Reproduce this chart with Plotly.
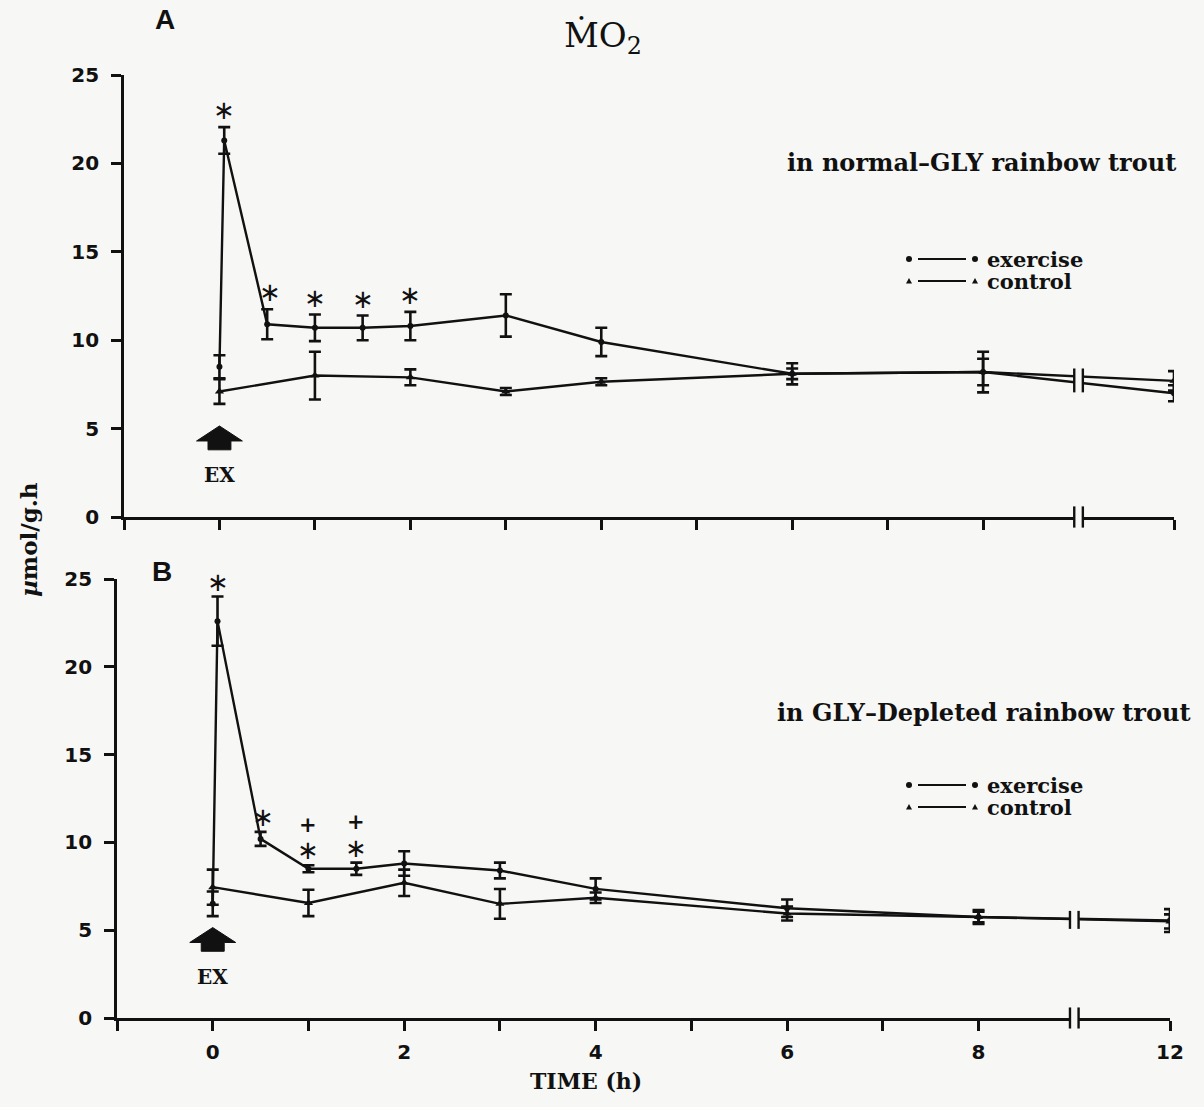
import plotly.graph_objects as go

# ---------------- data ----------------
ex_hours = [0, 0.05, 0.5, 1, 1.5, 2, 3, 4, 6, 8, 12]
ct_hours = [0, 1, 2, 3, 4, 6, 8, 12]

# Panel A : normal-GLY rainbow trout
a_ex = [8.5, 21.3, 10.9, 10.7, 10.7, 10.8, 11.4, 9.9, 8.1, 8.2, 7.0]
a_ex_err = [0.65, 0.75, 0.85, 0.75, 0.7, 0.8, 1.2, 0.8, 0.6, 1.15, 0.45]
a_ct = [7.1, 8.0, 7.9, 7.1, 7.65, 8.1, 8.2, 7.7]
a_ct_err = [0.7, 1.35, 0.45, 0.2, 0.2, 0.3, 0.75, 0.55]

# Panel B : GLY-depleted rainbow trout
b_ex = [6.5, 22.6, 10.2, 8.5, 8.5, 8.8, 8.4, 7.35, 6.25, 5.75, 5.55]
b_ex_err = [0.7, 1.4, 0.4, 0.2, 0.35, 0.7, 0.45, 0.6, 0.5, 0.4, 0.65]
b_ct = [7.45, 6.55, 7.7, 6.5, 6.85, 5.95, 5.75, 5.5]
b_ct_err = [1.0, 0.75, 0.75, 0.85, 0.3, 0.4, 0.3, 0.4]

# significance marks (hours of exercise points)
a_star_hours = [0.05, 0.5, 1, 1.5, 2]
b_star_hours = [0.05, 0.5, 1, 1.5]
b_plus_hours = [1, 1.5]

tick_hours = [-1, 0, 1, 2, 3, 4, 5, 6, 7, 8, 12]
tick_text = ["", "0", "", "2", "", "4", "", "6", "", "8", "12"]
y_ticks = [0, 5, 10, 15, 20, 25]

# ---------------- broken time axis: 8 -> 12 h is compressed ----------------
BREAK_H = 9          # where the axis break sits
SKIP = 2             # hours removed after the break (12 h drawn at 10)


def pos(h):
    return h if h <= BREAK_H else h - SKIP


W, H = 1204, 1107
BG = "#f7f7f5"
INK = "#111111"
SERIF = "DejaVu Serif"


def px(x):
    return x / W


def py(y):
    return 1 - y / H


fig = go.Figure()

panels = [
    ("x", "y", a_ex, a_ex_err, a_ct, a_ct_err),
    ("x2", "y2", b_ex, b_ex_err, b_ct, b_ct_err),
]

for xr, yr, ex, exe, ct, cte in panels:
    fig.add_trace(go.Scatter(
        x=[pos(h) for h in ct_hours], y=ct, xaxis=xr, yaxis=yr,
        mode="lines+markers", name="control",
        line=dict(color=INK, width=2.4),
        marker=dict(symbol="triangle-up", size=8, color=INK),
        error_y=dict(type="data", array=cte, color=INK, thickness=2.6, width=6),
        showlegend=False))
    fig.add_trace(go.Scatter(
        x=[pos(h) for h in ex_hours], y=ex, xaxis=xr, yaxis=yr,
        mode="lines+markers", name="exercise",
        line=dict(color=INK, width=2.4),
        marker=dict(symbol="circle", size=6, color=INK),
        error_y=dict(type="data", array=exe, color=INK, thickness=2.6, width=6),
        showlegend=False))

axis_common = dict(
    showline=True, linecolor=INK, linewidth=2.6, mirror=False,
    showgrid=False, zeroline=False, ticks="outside", ticklen=10,
    tickwidth=2.6, tickcolor=INK, automargin=False,
    tickfont=dict(family="DejaVu Sans", size=20, color=INK, weight="bold"),
)

x_range = [-1, pos(12)]
top_dom = [px(124), px(1174)]
bot_dom = [px(117), px(1170)]

fig.update_layout(
    width=W, height=H,
    margin=dict(l=0, r=0, t=0, b=0, autoexpand=False),
    paper_bgcolor=BG, plot_bgcolor=BG,
    xaxis=dict(domain=top_dom, range=x_range, anchor="y",
               tickvals=[pos(h) for h in tick_hours],
               ticktext=[" "] * len(tick_hours), **axis_common),
    yaxis=dict(domain=[py(517), py(75)], range=[0, 25], anchor="x",
               tickvals=y_ticks, ticklabelstandoff=8, **axis_common),
    xaxis2=dict(domain=bot_dom, range=x_range, anchor="y2",
                tickvals=[pos(h) for h in tick_hours],
                ticktext=tick_text, ticklabelstandoff=4, **axis_common),
    yaxis2=dict(domain=[py(1018), py(579)], range=[0, 25], anchor="x2",
                tickvals=y_ticks, ticklabelstandoff=8, **axis_common),
)

shapes = []
annotations = []


def note(x, y, text, font, xref="paper", yref="paper", **kw):
    d = dict(x=x, y=y, xref=xref, yref=yref, text=text, showarrow=False,
             xanchor=kw.pop("xanchor", "center"),
             yanchor=kw.pop("yanchor", "middle"), font=font)
    d.update(kw)
    annotations.append(d)


def value_at(hours, vals, h):
    return vals[hours.index(h)]


# ---- break marks on axis and on the data lines ----
for xr, yr, ex, ct in [("x", "y", a_ex, a_ct), ("x2", "y2", b_ex, b_ct)]:
    bx0, bx1 = BREAK_H - 0.045, BREAK_H + 0.045
    # on the time axis
    shapes.append(dict(type="rect", xref=xr, yref=yr + " domain",
                       x0=bx0, x1=bx1, y0=-0.015, y1=0.015,
                       fillcolor=BG, line=dict(width=0), layer="above"))
    for bx in (bx0, bx1):
        shapes.append(dict(type="line", xref=xr, yref=yr + " domain",
                           x0=bx, x1=bx, y0=-0.024, y1=0.024,
                           line=dict(color=INK, width=2.4), layer="above"))
    # on the curves (interpolated between 8 h and 12 h)
    f = (pos(BREAK_H) - pos(8)) / (pos(12) - pos(8))
    ys = []
    for hrs, vals in [(ex_hours, ex), (ct_hours, ct)]:
        v8, v12 = value_at(hrs, vals, 8), value_at(hrs, vals, 12)
        ys.append(v8 + (v12 - v8) * f)
    lo, hi = min(ys), max(ys)
    shapes.append(dict(type="rect", xref=xr, yref=yr,
                       x0=bx0, x1=bx1, y0=lo - 0.3, y1=hi + 0.3,
                       fillcolor=BG, line=dict(width=0), layer="above"))
    for bx in (bx0, bx1):
        shapes.append(dict(type="line", xref=xr, yref=yr,
                           x0=bx, x1=bx, y0=lo - 0.55, y1=hi + 0.45,
                           line=dict(color=INK, width=2.4), layer="above"))

    # EX arrow at time 0
    shapes.append(dict(
        type="path", xref=xr, yref=yr,
        path=("M -0.24 4.3 L 0 5.15 L 0.24 4.3 L 0.12 4.3 L 0.12 3.8 "
              "L -0.12 3.8 L -0.12 4.3 Z"),
        fillcolor=INK, line=dict(color=INK, width=1), layer="above"))
    note(0, 2.35, "EX", dict(family=SERIF, size=20, color=INK, weight="bold"),
         xref=xr, yref=yr)


# ---- significance symbols ----
def add_marks(xr, yr, hours_list, vals, errs, marks, offset, sym, size):
    for h in marks:
        i = hours_list.index(h)
        note(pos(h) + (0.03 if h == 0.5 else 0), vals[i] + errs[i] + offset,
             sym, dict(family="DejaVu Sans", size=size, color=INK),
             xref=xr, yref=yr)


add_marks("x", "y", ex_hours, a_ex, a_ex_err, a_star_hours, 0.95, "∗", 26)
add_marks("x2", "y2", ex_hours, b_ex, b_ex_err, b_star_hours, 0.85, "∗", 26)
add_marks("x2", "y2", ex_hours, b_ex, b_ex_err, b_plus_hours, 2.3, "<b>+</b>", 21)

# ---- texts ----
bold_serif = lambda s: dict(family=SERIF, size=s, color=INK, weight="bold")

note(px(603), py(37), "ṀO<sub>2</sub>", dict(family=SERIF, size=34, color=INK))
note(px(165), py(19), "A",
     dict(family="Liberation Sans", size=28, color=INK, weight="bold"))
note(px(162), py(571), "B",
     dict(family="Liberation Sans", size=28, color=INK, weight="bold"))
note(px(1178), py(162), "in normal\u2013GLY rainbow trout", bold_serif(24),
     xanchor="right")
note(px(1192), py(712), "in GLY\u2013Depleted rainbow trout", bold_serif(24),
     xanchor="right")
note(px(28), py(540), "<i>µ</i>mol/g.h", bold_serif(23), textangle=-90)
note(px(586), py(1081), "TIME (h)", bold_serif(22))


# ---- hand-drawn style legends ----
def circle_at(cx, cy, r):
    return dict(type="circle", xref="paper", yref="paper",
                x0=px(cx - r), x1=px(cx + r), y0=py(cy + r), y1=py(cy - r),
                fillcolor=INK, line=dict(color=INK, width=0))


def tri_at(cx, cy, r):
    p = "M {} {} L {} {} L {} {} Z".format(
        px(cx - r), py(cy + r * 0.8), px(cx + r), py(cy + r * 0.8),
        px(cx), py(cy - r))
    return dict(type="path", xref="paper", yref="paper", path=p,
                fillcolor=INK, line=dict(color=INK, width=0))


for ytop in (259, 785):
    for dy, kind, lab in [(0, "circle", "exercise"), (22, "tri", "control")]:
        yy = ytop + dy
        mk = circle_at if kind == "circle" else tri_at
        shapes.append(mk(909, yy, 3.0))
        shapes.append(mk(975, yy, 3.0))
        shapes.append(dict(type="line", xref="paper", yref="paper",
                           x0=px(918), x1=px(966), y0=py(yy), y1=py(yy),
                           line=dict(color=INK, width=2)))
        note(px(985), py(yy), lab, bold_serif(21), xanchor="left")

fig.update_layout(shapes=shapes, annotations=annotations)
fig.write_html("out.html")
